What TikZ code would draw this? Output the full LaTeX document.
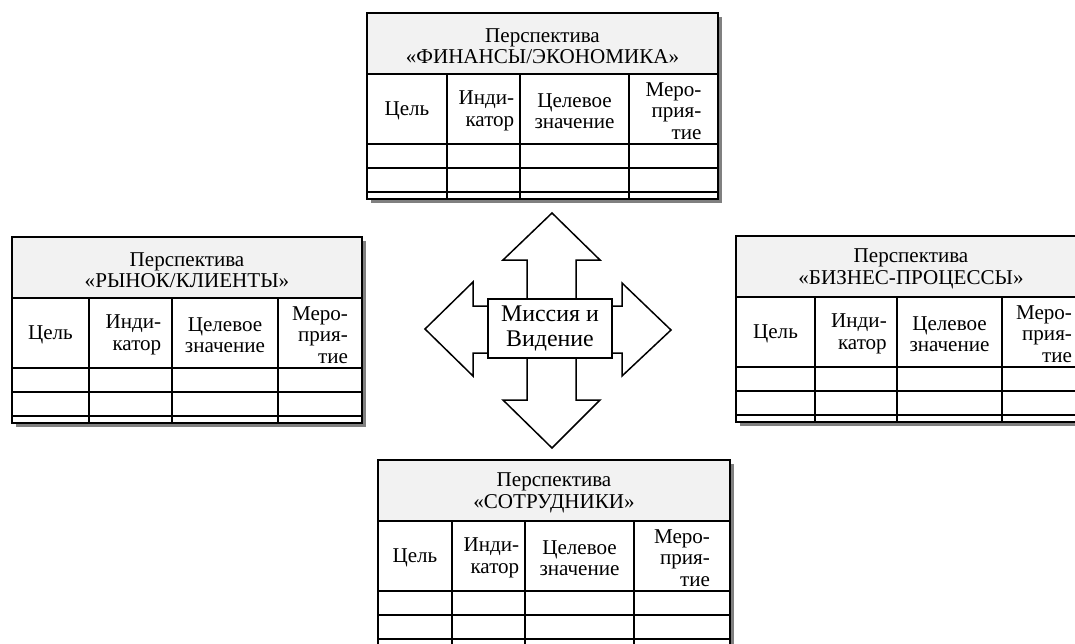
\documentclass[tikz,border=0pt]{standalone}
\usepackage{fontspec}
\setmainfont{Liberation Serif}
\usepackage{tikz}

\definecolor{headgray}{RGB}{242,242,242}
\definecolor{shadowgray}{RGB}{128,128,128}

% #1 name, #2 #3 top left, #4 #5 #6 column lines, #7 width, #8 title
\newcommand{\perspective}[8]{%
  \begin{scope}[shift={(#2,#3)}]
    \fill [shadowgray] (4,4) rectangle (#7+4,190);
    \fill [white] (0,0) rectangle (#7,186);
    \filldraw [tabline,fill=headgray] (0,0) rectangle (#7,61);
    \draw [tabline] (0,61) rectangle (#7,186);
    \foreach \r in {131,155,179} \draw [tabline] (0,\r) -- (#7,\r);
    \foreach \c in {#4,#5,#6} \draw [tabline] (\c,61) -- (\c,186);
    \node [headtext] (#1-title) at (#7/2,33) {Перспектива\\«#8»};
    \node [coltext] (#1-goal) at (#4/2,98) {Цель};
    \node [rcoltext] (#1-ind) at ({(#4+#5)/2+3},98) {Инди-\\катор};
    \node [coltext] (#1-val) at ({(#5+#6)/2},98) {Целевое\\значение};
    \node [rcoltext] (#1-act) at ({(#6+#7)/2},98) {Меро-\\прия-\\тие};
  \end{scope}}

\begin{document}
\begin{tikzpicture}[x=0.02cm,y=-0.02cm]
\tikzstyle{tabline}=[black,line width=1.1pt]
\tikzstyle{arrowline}=[black,line width=0.85pt,line join=miter]
\tikzstyle{headtext}=[align=center,inner sep=0pt,font=\fontsize{12}{12.2}\selectfont]
\tikzstyle{coltext}=[align=center,inner sep=0pt,font=\fontsize{12}{12.2}\selectfont]
\tikzstyle{rcoltext}=[align=right,inner sep=0pt,font=\fontsize{12}{12.2}\selectfont]
\tikzstyle{missionbox}=[arrowline,draw,fill=white,align=center,inner sep=0pt,
  minimum width=2.48cm,minimum height=1.18cm,font=\fontsize{13.6}{14.2}\selectfont]
\useasboundingbox (0,0) rectangle (1075,643);
\clip (0,0) rectangle (1075,643);

\filldraw [arrowline,fill=white] (552,213) -- (600,260) -- (576,260) -- (576,306)
  -- (622,306) -- (622,283) -- (671,330) -- (622,376) -- (622,353) -- (576,353)
  -- (576,400) -- (600,400) -- (552,448) -- (503,400) -- (527,400) -- (527,353)
  -- (473,353) -- (473,376) -- (425,329) -- (473,282) -- (473,306) -- (527,306)
  -- (527,260) -- (503,260) -- cycle;
\node [missionbox] (mission) at (550,328.5) {Миссия и\\Видение};

\perspective{fin}{367}{13}{80}{153}{262}{351}{ФИНАНСЫ/ЭКОНОМИКА}
\perspective{mkt}{12}{237}{77}{160}{266}{350}{РЫНОК/КЛИЕНТЫ}
\perspective{proc}{736}{236}{79}{161}{266}{350}{БИЗНЕС-ПРОЦЕССЫ}
\perspective{staff}{378}{460}{74}{147}{256}{352}{СОТРУДНИКИ}
\end{tikzpicture}
\end{document}
